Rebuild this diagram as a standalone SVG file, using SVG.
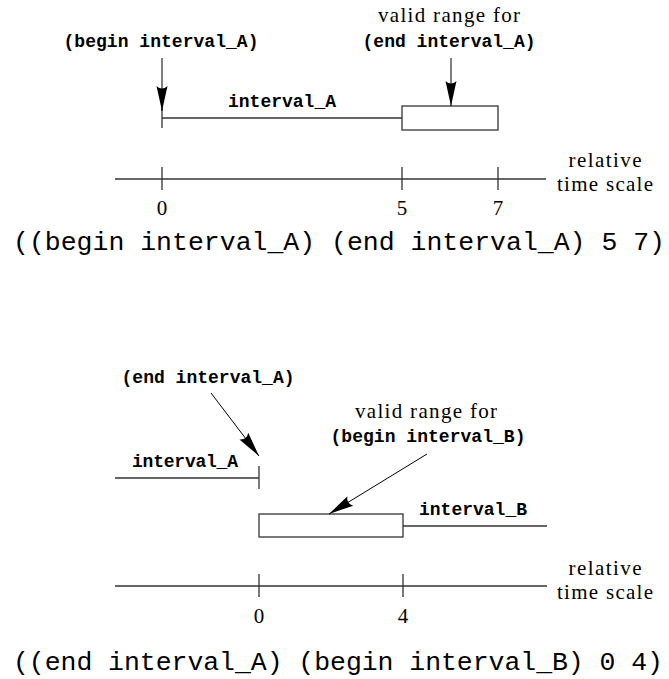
<svg xmlns="http://www.w3.org/2000/svg" width="669" height="679" viewBox="0 0 669 679">
  <style>
    .ln { stroke: #333; stroke-width: 1.3; fill: none; }
    .box { stroke: #333; stroke-width: 1.3; fill: #fff; }
    .arw { stroke: #000; stroke-width: 1; fill: none; marker-end: url(#head); }
    .tt { font-family: "Liberation Mono", "DejaVu Sans Mono", monospace; font-weight: bold; font-size: 18px; fill: #000; text-anchor: middle; }
    .rm { font-family: "Liberation Serif", "DejaVu Serif", serif; font-size: 21px; fill: #000; text-anchor: middle; }
    .big { font-family: "Liberation Mono", "DejaVu Sans Mono", monospace; font-size: 26.5px; fill: #000; }
  </style>
  <defs>
    <marker id="head" markerUnits="userSpaceOnUse" markerWidth="30" markerHeight="14" refX="26" refY="7" orient="auto" viewBox="0 0 30 14">
      <path d="M26,7 L1,1.5 Q6,7 1,12.5 Z" fill="#000"/>
    </marker>
  </defs>

  <!-- First example: begin/end of interval_A -->
  <g id="example1">
    <g id="interval-a-top">
      <line class="ln" x1="162" y1="118" x2="402" y2="118"/>
      <line class="ln" x1="162" y1="108" x2="162" y2="128"/>
      <text class="tt" x="282" y="107" textLength="108" lengthAdjust="spacing">interval_A</text>
    </g>
    <g id="range-end-a">
      <rect class="box" x="402" y="106" width="96" height="24"/>
      <text class="rm" x="449" y="22" textLength="142" lengthAdjust="spacing">valid range for</text>
      <text class="tt" x="449" y="47" textLength="173" lengthAdjust="spacing">(end interval_A)</text>
    </g>
    <g id="label-begin-a">
      <text class="tt" x="161" y="47" textLength="195" lengthAdjust="spacing">(begin interval_A)</text>
    </g>
    <g id="scale1">
      <line class="ln" x1="115" y1="179" x2="546" y2="179"/>
      <line class="ln" x1="162" y1="167" x2="162" y2="190"/>
      <line class="ln" x1="402" y1="167" x2="402" y2="190"/>
      <line class="ln" x1="498" y1="167" x2="498" y2="190"/>
      <text class="rm" x="162" y="215">0</text>
      <text class="rm" x="402" y="215">5</text>
      <text class="rm" x="498" y="215">7</text>
      <text class="rm" x="605" y="167" textLength="73" lengthAdjust="spacing">relative</text>
      <text class="rm" x="605" y="191" textLength="96" lengthAdjust="spacing">time scale</text>
    </g>
    <text class="big" x="13" y="250" textLength="652" lengthAdjust="spacing">((begin interval_A) (end interval_A) 5 7)</text>
  </g>

  <!-- Second example: end of interval_A to begin of interval_B -->
  <g id="example2">
    <g id="interval-a-bottom">
      <line class="ln" x1="115" y1="478" x2="259" y2="478"/>
      <line class="ln" x1="259" y1="466" x2="259" y2="489"/>
      <text class="tt" x="185" y="467" textLength="106" lengthAdjust="spacing">interval_A</text>
    </g>
    <g id="label-end-a">
      <text class="tt" x="208" y="383" textLength="173" lengthAdjust="spacing">(end interval_A)</text>
    </g>
    <g id="range-begin-b">
      <rect class="box" x="259" y="514" width="144" height="23"/>
      <text class="rm" x="426" y="418" textLength="142" lengthAdjust="spacing">valid range for</text>
      <text class="tt" x="428" y="442" textLength="195" lengthAdjust="spacing">(begin interval_B)</text>
    </g>
    <g id="interval-b">
      <line class="ln" x1="403" y1="526" x2="547" y2="526"/>
      <text class="tt" x="473" y="515" textLength="108" lengthAdjust="spacing">interval_B</text>
    </g>
    <g id="scale2">
      <line class="ln" x1="115" y1="586" x2="547" y2="586"/>
      <line class="ln" x1="259" y1="574" x2="259" y2="597"/>
      <line class="ln" x1="403" y1="574" x2="403" y2="597"/>
      <text class="rm" x="259" y="623">0</text>
      <text class="rm" x="403" y="623">4</text>
      <text class="rm" x="605" y="575" textLength="73" lengthAdjust="spacing">relative</text>
      <text class="rm" x="605" y="599" textLength="96" lengthAdjust="spacing">time scale</text>
    </g>
    <text class="big" x="13" y="670" textLength="650" lengthAdjust="spacing">((end interval_A) (begin interval_B) 0 4)</text>
  </g>

  <!-- Pointer arrows -->
  <g id="connectors">
    <line class="arw" x1="162" y1="58" x2="162" y2="111"/>
    <line class="arw" x1="451" y1="58" x2="451" y2="106"/>
    <line class="arw" x1="211" y1="393" x2="259" y2="456"/>
    <line class="arw" x1="427" y1="454" x2="329" y2="514"/>
  </g>
</svg>
